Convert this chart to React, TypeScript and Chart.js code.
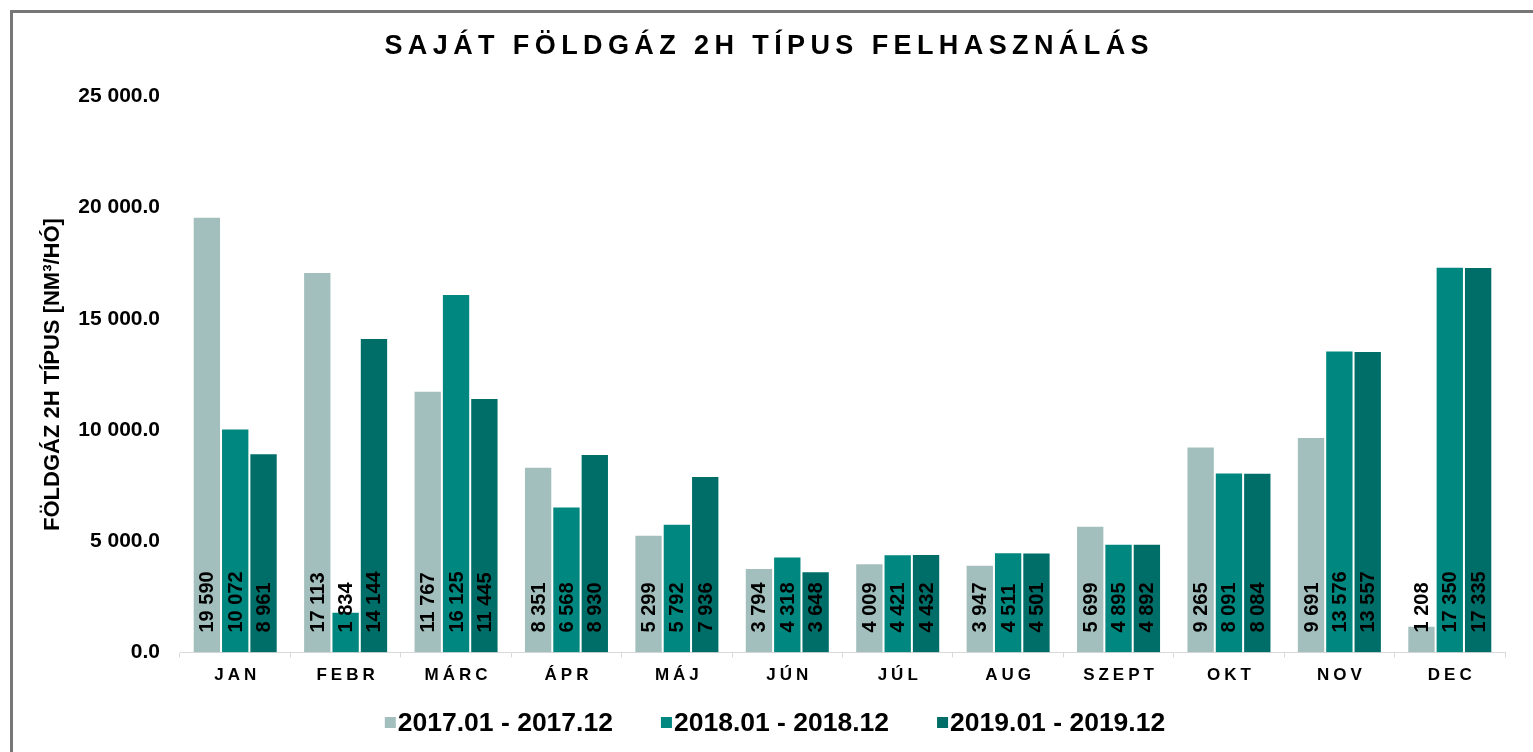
import React, { useEffect, useRef } from "react";
import { Chart, registerables } from "chart.js";

Chart.register(...registerables);

const months = ["JAN", "FEBR", "MÁRC", "ÁPR", "MÁJ", "JÚN", "JÚL", "AUG", "SZEPT", "OKT", "NOV", "DEC"];
const series2017 = [19590, 17113, 11767, 8351, 5299, 3794, 4009, 3947, 5699, 9265, 9691, 1208];
const series2018 = [10072, 1834, 16125, 6568, 5792, 4318, 4421, 4511, 4895, 8091, 13576, 17350];
const series2019 = [8961, 14144, 11445, 8930, 7936, 3648, 4432, 4501, 4892, 8084, 13557, 17335];
const seriesLabels = ["2017.01 - 2017.12", "2018.01 - 2018.12", "2019.01 - 2019.12"];
const seriesColors = ["#A3BFBD", "#00877F", "#006E68"];
const yTickValues = [0, 5000, 10000, 15000, 20000, 25000];
const chartTitle = "SAJÁT FÖLDGÁZ 2H TÍPUS FELHASZNÁLÁS";
const yAxisTitle = "FÖLDGÁZ 2H TÍPUS [NM³/HÓ]";

const FONT = "'Liberation Sans', Arial, sans-serif";

function fmt(v: number, dec: number): string {
  const s = v.toFixed(dec);
  const [i, d] = s.split(".");
  const int = i.replace(/\B(?=(\d{3})+(?!\d))/g, " ");
  return d !== undefined ? int + "." + d : int;
}

const decorPlugin = {
  id: "decor",
  beforeDraw(chart: any) {
    const xs: any = chart.scales.x;
    if (xs && !xs.__patched) {
      const orig = xs.drawLabels;
      xs.drawLabels = function (area: any) {
        const c = this.ctx;
        c.save();
        c.letterSpacing = "4px";
        c.translate(2, 0);
        orig.call(this, area);
        c.restore();
      };
      xs.__patched = true;
    }
  },
  afterDatasetsDraw(chart: any) {
    const ctx = chart.ctx;
    ctx.save();
    ctx.font = `bold 20px ${FONT}`;
    ctx.fillStyle = "#000";
    ctx.textAlign = "left";
    ctx.textBaseline = "middle";
    chart.data.datasets.forEach((ds: any, i: number) => {
      const meta = chart.getDatasetMeta(i);
      meta.data.forEach((bar: any, j: number) => {
        const v = ds.data[j] as number;
        ctx.save();
        ctx.translate(bar.x + 1, bar.base - 20);
        ctx.rotate(-Math.PI / 2);
        ctx.fillText(fmt(v, 0), 0, 0);
        ctx.restore();
      });
    });
    ctx.restore();
  },
  afterDraw(chart: any) {
    const ctx = chart.ctx;
    // title
    ctx.save();
    ctx.font = `bold 27px ${FONT}`;
    ctx.fillStyle = "#000";
    ctx.textAlign = "center";
    ctx.textBaseline = "middle";
    (ctx as any).letterSpacing = "5.4px";
    ctx.fillText(chartTitle, chart.width / 2 + 2.7, 47);
    ctx.restore();

    // legend
    ctx.save();
    ctx.font = `bold 26.5px ${FONT}`;
    ctx.textBaseline = "middle";
    ctx.textAlign = "left";
    const box = 11;
    const gapBox = 2;
    const gapItem = 48;
    const ds = chart.data.datasets;
    const widths = ds.map((d: any) => ctx.measureText(d.label).width);
    const total = widths.reduce((a: number, w: number) => a + box + gapBox + w, 0) + gapItem * (ds.length - 1);
    let x = 775 - total / 2;
    const y = 722.5;
    ds.forEach((d: any, i: number) => {
      ctx.fillStyle = d.backgroundColor;
      ctx.fillRect(x, y - box / 2, box, box);
      ctx.fillStyle = "#000";
      ctx.fillText(d.label, x + box + gapBox, y + 1);
      x += box + gapBox + widths[i] + gapItem;
    });
    ctx.restore();
  },
};

export default function App() {
  const ref = useRef<HTMLCanvasElement | null>(null);

  useEffect(() => {
    if (!ref.current) return;
    const data = [series2017, series2018, series2019];
    const chart = new Chart(ref.current, {
      type: "bar",
      data: {
        labels: months,
        datasets: data.map((d, i) => ({
          label: seriesLabels[i],
          data: d,
          backgroundColor: seriesColors[i],
          borderColor: "rgba(255,255,255,0.12)",
          borderWidth: 1,
          categoryPercentage: 0.77,
          barPercentage: 1,
        })),
      },
      options: {
        animation: false,
        responsive: false,
        devicePixelRatio: 1,
        layout: { padding: { left: 0, right: 28, top: 96.5, bottom: 59.5 } },
        plugins: {
          legend: { display: false },
          title: { display: false },
          tooltip: { enabled: false },
        },
        scales: {
          x: {
            grid: {
              display: true,
              drawOnChartArea: false,
              drawTicks: true,
              tickLength: 5,
              color: "#D9D9D9",
              offset: true,
            },
            border: { display: true, color: "#D9D9D9", width: 1 },
            ticks: {
              color: "#000",
              padding: 8,
              font: { family: FONT, size: 17, weight: "bold" },
              maxRotation: 0,
              autoSkip: false,
            },
            afterFit(scale: any) {
              scale.height = 40;
            },
          },
          y: {
            min: yTickValues[0],
            max: yTickValues[yTickValues.length - 1],
            grid: { display: false, drawTicks: false },
            border: { display: false },
            afterBuildTicks(scale: any) {
              scale.ticks = yTickValues.map((v) => ({ value: v }));
            },
            ticks: {
              color: "#000",
              padding: 20,
              font: { family: FONT, size: 21, weight: "bold" },
              callback: (v: any) => fmt(Number(v), 1),
            },
            title: {
              display: true,
              text: yAxisTitle,
              color: "#000",
              font: { family: FONT, size: 22, weight: "bold" },
              padding: { top: 40, bottom: 0 },
            },
            afterFit(scale: any) {
              scale.width = 180;
            },
          },
        },
      },
      plugins: [decorPlugin],
    });
    return () => chart.destroy();
  }, []);

  return (
    <div style={{ position: "fixed", left: 0, top: 0, width: 1533, height: 752, background: "#fff", overflow: "hidden" }}>
      <div
        style={{
          position: "absolute",
          left: 10,
          top: 10,
          width: 1560,
          height: 780,
          border: "3px solid #777777",
          boxSizing: "border-box",
        }}
      />
      <canvas ref={ref} width={1533} height={752} style={{ position: "absolute", left: 0, top: 0, width: 1533, height: 752 }} />
    </div>
  );
}
